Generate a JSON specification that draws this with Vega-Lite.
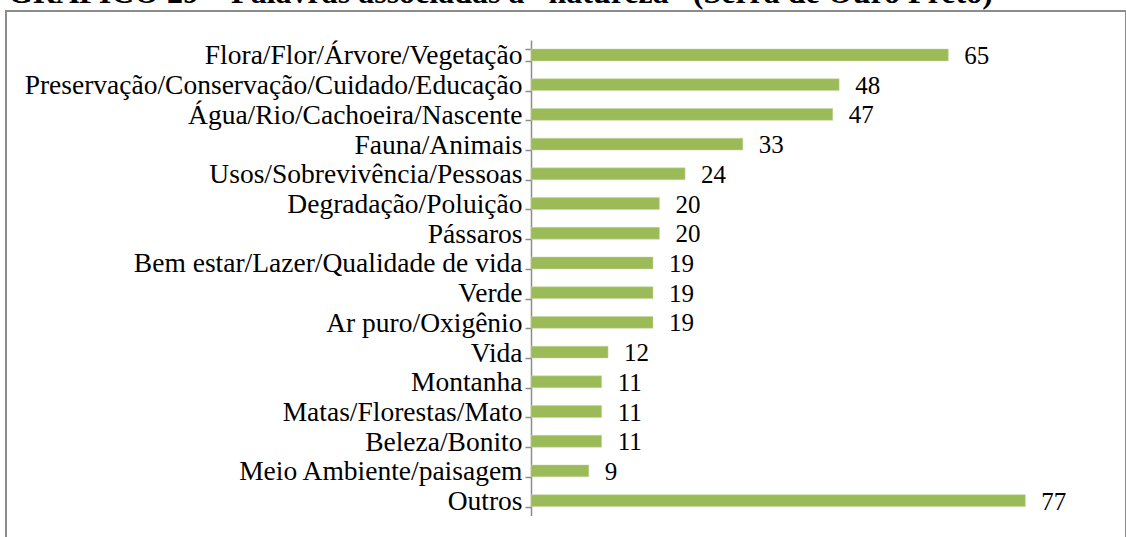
{
  "$schema": "https://vega.github.io/schema/vega-lite/v6.json",
  "autosize": {"type": "none"},
  "width": 1120,
  "height": 528,
  "padding": {"left": 6, "top": 11, "right": 0, "bottom": 0},
  "background": "white",
  "title": {
    "text": "GRÁFICO 29 – Palavras associadas a “natureza” (Serra de Ouro Preto)",
    "anchor": "start",
    "frame": "group",
    "orient": "top",
    "baseline": "alphabetic",
    "offset": -38,
    "dx": 2,
    "font": "Liberation Serif",
    "fontSize": 32,
    "fontWeight": "bold",
    "color": "black"
  },
  "config": {
    "view": {"stroke": "#8c8c8c", "strokeWidth": 2}
  },
  "data": {
    "values": [
      {"cat": "Flora/Flor/Árvore/Vegetação", "n": 65},
      {"cat": "Preservação/Conservação/Cuidado/Educação", "n": 48},
      {"cat": "Água/Rio/Cachoeira/Nascente", "n": 47},
      {"cat": "Fauna/Animais", "n": 33},
      {"cat": "Usos/Sobrevivência/Pessoas", "n": 24},
      {"cat": "Degradação/Poluição", "n": 20},
      {"cat": "Pássaros", "n": 20},
      {"cat": "Bem estar/Lazer/Qualidade de vida", "n": 19},
      {"cat": "Verde", "n": 19},
      {"cat": "Ar puro/Oxigênio", "n": 19},
      {"cat": "Vida", "n": 12},
      {"cat": "Montanha", "n": 11},
      {"cat": "Matas/Florestas/Mato", "n": 11},
      {"cat": "Beleza/Bonito", "n": 11},
      {"cat": "Meio Ambiente/paisagem", "n": 9},
      {"cat": "Outros", "n": 77}
    ]
  },
  "encoding": {
    "y": {
      "field": "cat",
      "type": "nominal",
      "sort": null,
      "scale": {"range": [29.1, 504.5], "paddingInner": 0.6, "paddingOuter": 0.3},
      "axis": {
        "title": null,
        "offset": -525,
        "tickBand": "extent",
        "domainColor": "#8c8c8c",
        "domainWidth": 1.5,
        "tickColor": "#8c8c8c",
        "tickWidth": 1.5,
        "tickSize": 6,
        "labelPadding": 3,
        "labelOffset": 1,
        "labelFont": "Liberation Serif",
        "labelFontSize": 27.5,
        "labelColor": "black",
        "labelLimit": 0
      }
    }
  },
  "layer": [
    {
      "mark": {"type": "bar", "color": "#9bbb59", "stroke": "#c5d9a0", "strokeWidth": 0.5},
      "encoding": {
        "x": {
          "field": "n",
          "type": "quantitative",
          "scale": {"domain": [-81.78, 92.68], "nice": false, "zero": false},
          "axis": null
        }
      }
    },
    {
      "mark": {"type": "text", "align": "left", "baseline": "middle", "dx": 16, "dy": 1, "font": "Liberation Serif", "fontSize": 25, "color": "black"},
      "encoding": {
        "x": {"field": "n", "type": "quantitative"},
        "text": {"field": "n", "type": "quantitative"}
      }
    }
  ]
}
